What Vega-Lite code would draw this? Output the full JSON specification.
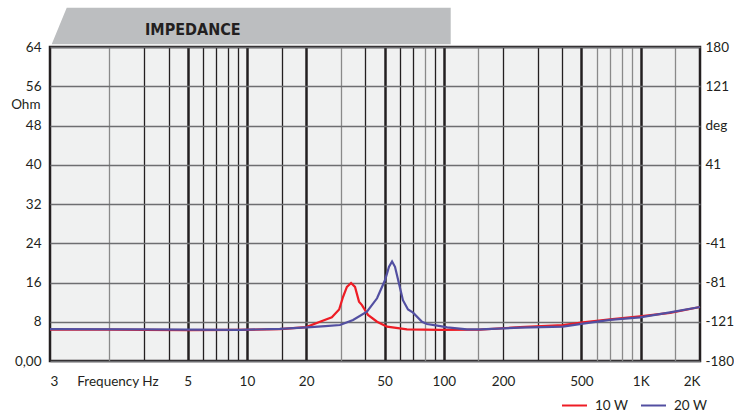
{
  "$schema": "https://vega.github.io/schema/vega-lite/v6.json",
  "width": 650,
  "height": 314,
  "autosize": {"type": "none"},
  "padding": {"left": 50, "top": 47, "right": 34, "bottom": 55},
  "background": "white",
  "config": {
    "view": {"fill": "#f0f1f1", "stroke": "#231f20", "strokeWidth": 2.5},
    "axis": {"labelFont": "Lato", "labelFontSize": 13.5, "labelColor": "#231f20", "titleFont": "Lato", "titleFontSize": 13.5, "titleFontWeight": "normal", "titleColor": "#231f20"},
    "legend": {"labelFont": "Lato", "labelFontSize": 13.5, "labelColor": "#231f20"}
  },
  "title": {"text": "IMPEDANCE", "anchor": "start", "frame": "group", "dx": 95, "offset": -43, "baseline": "alphabetic", "font": "DejaVu Sans Condensed, Lato, sans-serif", "fontWeight": "bold", "fontSize": 16, "color": "#231f20", "zindex": 2},
  "datasets": {
    "curves": [
      {"f": 1, "z": 6.4, "series": "10 W"},
      {"f": 2, "z": 6.4, "series": "10 W"},
      {"f": 3, "z": 6.35, "series": "10 W"},
      {"f": 5, "z": 6.3, "series": "10 W"},
      {"f": 9, "z": 6.35, "series": "10 W"},
      {"f": 14.7, "z": 6.5, "series": "10 W"},
      {"f": 20, "z": 6.9, "series": "10 W"},
      {"f": 23.5, "z": 8.0, "series": "10 W"},
      {"f": 27, "z": 8.9, "series": "10 W"},
      {"f": 29.4, "z": 10.5, "series": "10 W"},
      {"f": 30.8, "z": 13.1, "series": "10 W"},
      {"f": 32.2, "z": 15.1, "series": "10 W"},
      {"f": 33.8, "z": 15.9, "series": "10 W"},
      {"f": 35.4, "z": 15.1, "series": "10 W"},
      {"f": 37.1, "z": 12.1, "series": "10 W"},
      {"f": 38.4, "z": 11.4, "series": "10 W"},
      {"f": 41.2, "z": 9.4, "series": "10 W"},
      {"f": 45.8, "z": 8.0, "series": "10 W"},
      {"f": 51.5, "z": 7.0, "series": "10 W"},
      {"f": 65, "z": 6.45, "series": "10 W"},
      {"f": 96, "z": 6.35, "series": "10 W"},
      {"f": 153, "z": 6.4, "series": "10 W"},
      {"f": 244, "z": 6.9, "series": "10 W"},
      {"f": 403, "z": 7.3, "series": "10 W"},
      {"f": 509, "z": 7.9, "series": "10 W"},
      {"f": 698, "z": 8.5, "series": "10 W"},
      {"f": 991, "z": 9.1, "series": "10 W"},
      {"f": 1409, "z": 9.8, "series": "10 W"},
      {"f": 2000, "z": 11.0, "series": "10 W"},
      {"f": 1, "z": 6.5, "series": "20 W"},
      {"f": 3, "z": 6.45, "series": "20 W"},
      {"f": 5, "z": 6.4, "series": "20 W"},
      {"f": 9.2, "z": 6.35, "series": "20 W"},
      {"f": 14.7, "z": 6.55, "series": "20 W"},
      {"f": 20.2, "z": 6.87, "series": "20 W"},
      {"f": 25, "z": 7.1, "series": "20 W"},
      {"f": 29.7, "z": 7.34, "series": "20 W"},
      {"f": 34.6, "z": 8.36, "series": "20 W"},
      {"f": 40.7, "z": 10.05, "series": "20 W"},
      {"f": 45.8, "z": 12.78, "series": "20 W"},
      {"f": 50.3, "z": 16.5, "series": "20 W"},
      {"f": 52.7, "z": 19.2, "series": "20 W"},
      {"f": 54.6, "z": 20.3, "series": "20 W"},
      {"f": 56.5, "z": 19.2, "series": "20 W"},
      {"f": 59.2, "z": 15.8, "series": "20 W"},
      {"f": 62, "z": 12.4, "series": "20 W"},
      {"f": 65.8, "z": 10.5, "series": "20 W"},
      {"f": 69.8, "z": 9.85, "series": "20 W"},
      {"f": 77.5, "z": 8.0, "series": "20 W"},
      {"f": 82.1, "z": 7.54, "series": "20 W"},
      {"f": 96, "z": 7.1, "series": "20 W"},
      {"f": 104, "z": 6.87, "series": "20 W"},
      {"f": 131, "z": 6.46, "series": "20 W"},
      {"f": 153, "z": 6.46, "series": "20 W"},
      {"f": 244, "z": 6.8, "series": "20 W"},
      {"f": 403, "z": 7.0, "series": "20 W"},
      {"f": 509, "z": 7.6, "series": "20 W"},
      {"f": 698, "z": 8.4, "series": "20 W"},
      {"f": 991, "z": 8.9, "series": "20 W"},
      {"f": 1409, "z": 9.9, "series": "20 W"},
      {"f": 2000, "z": 11.0, "series": "20 W"}
    ],
    "header": [
      {"f": 1.02, "top": 64.55, "bottom": 64.55},
      {"f": 1.216, "top": 72, "bottom": 64.55},
      {"f": 108.4, "top": 72, "bottom": 64.55}
    ]
  },
  "layer": [
    {
      "data": {"name": "curves"},
      "mark": {"type": "line", "strokeWidth": 2.2},
      "encoding": {
        "x": {
          "field": "f", "type": "quantitative",
          "scale": {"type": "log", "domain": [1, 2000], "nice": false},
          "axis": {
            "orient": "bottom", "title": null, "labels": false, "ticks": false, "domain": false, "grid": true,
            "values": [2, 3, 4, 5, 6, 7, 8, 9, 10, 15, 20, 30, 40, 50, 60, 70, 80, 90, 100, 150, 200, 300, 400, 500, 600, 700, 800, 900, 1000, 1500],
            "gridColor": {"condition": {"test": "indexof([2, 30, 80, 150, 600, 700, 800, 900, 1500], datum.value) >= 0", "value": "#8a8a8a"}, "value": "#231f20"},
            "gridWidth": {"condition": {"test": "indexof([5, 10, 20, 50, 100, 500, 1000], datum.value) >= 0", "value": 2.5}, "value": 1.3}
          }
        },
        "y": {
          "field": "z", "type": "quantitative",
          "scale": {"domain": [0, 64], "nice": false},
          "axis": {
            "orient": "left", "values": [0, 8, 16, 24, 32, 40, 48, 56, 64],
            "labelExpr": "datum.value == 0 ? '0,00' : datum.label",
            "grid": true, "gridColor": "#6d6e71", "gridWidth": 1.5,
            "ticks": false, "tickSize": 0, "domain": false, "labelPadding": 9,
            "title": "Ohm", "titleAngle": 0, "titleAlign": "right", "titleBaseline": "middle", "titleX": -10, "titleY": 57
          }
        },
        "color": {
          "field": "series", "type": "nominal",
          "scale": {"domain": ["10 W", "20 W"], "range": ["#ee1c25", "#524fa1"]},
          "legend": {
            "orient": "none", "legendX": 511, "legendY": 345, "direction": "horizontal", "title": null,
            "symbolType": "stroke", "symbolStrokeWidth": 2, "symbolSize": 625,
            "columnPadding": 8, "labelOffset": 7
          }
        }
      }
    },
    {
      "data": {"name": "header"},
      "mark": {"type": "area", "orient": "vertical", "color": "#bcbec0"},
      "encoding": {
        "x": {
          "field": "f", "type": "quantitative",
          "scale": {"type": "log", "domain": [1, 2000], "nice": false},
          "axis": {
            "orient": "bottom", "title": null, "grid": false, "ticks": false, "tickSize": 0, "domain": false, "labelPadding": 13, "labelOverlap": false,
            "values": [1, 2.2, 5, 10, 20, 50, 100, 200, 500, 1000, 2000],
            "labelExpr": "datum.value == 1 ? '3' : datum.value == 2.2 ? 'Frequency Hz' : datum.value == 1000 ? '1K' : datum.value == 2000 ? '2K' : datum.value == 500 ? '500' : datum.value == 200 ? '200' : datum.value == 100 ? '100' : datum.label"
          }
        },
        "y": {
          "field": "top", "type": "quantitative",
          "scale": {"domain": [0, 64], "nice": false},
          "axis": {
            "orient": "right", "title": null, "grid": false, "ticks": false, "tickSize": 0, "domain": false, "labelPadding": 5,
            "values": [0, 8, 16, 24, 40, 48, 56, 64],
            "labelExpr": "datum.value == 0 ? '-180' : datum.value == 8 ? '-121' : datum.value == 16 ? '-81' : datum.value == 24 ? '-41' : datum.value == 40 ? '41' : datum.value == 48 ? 'deg' : datum.value == 56 ? '121' : '180'"
          }
        },
        "y2": {"field": "bottom"}
      }
    }
  ],
  "resolve": {"axis": {"x": "independent", "y": "independent"}}
}
